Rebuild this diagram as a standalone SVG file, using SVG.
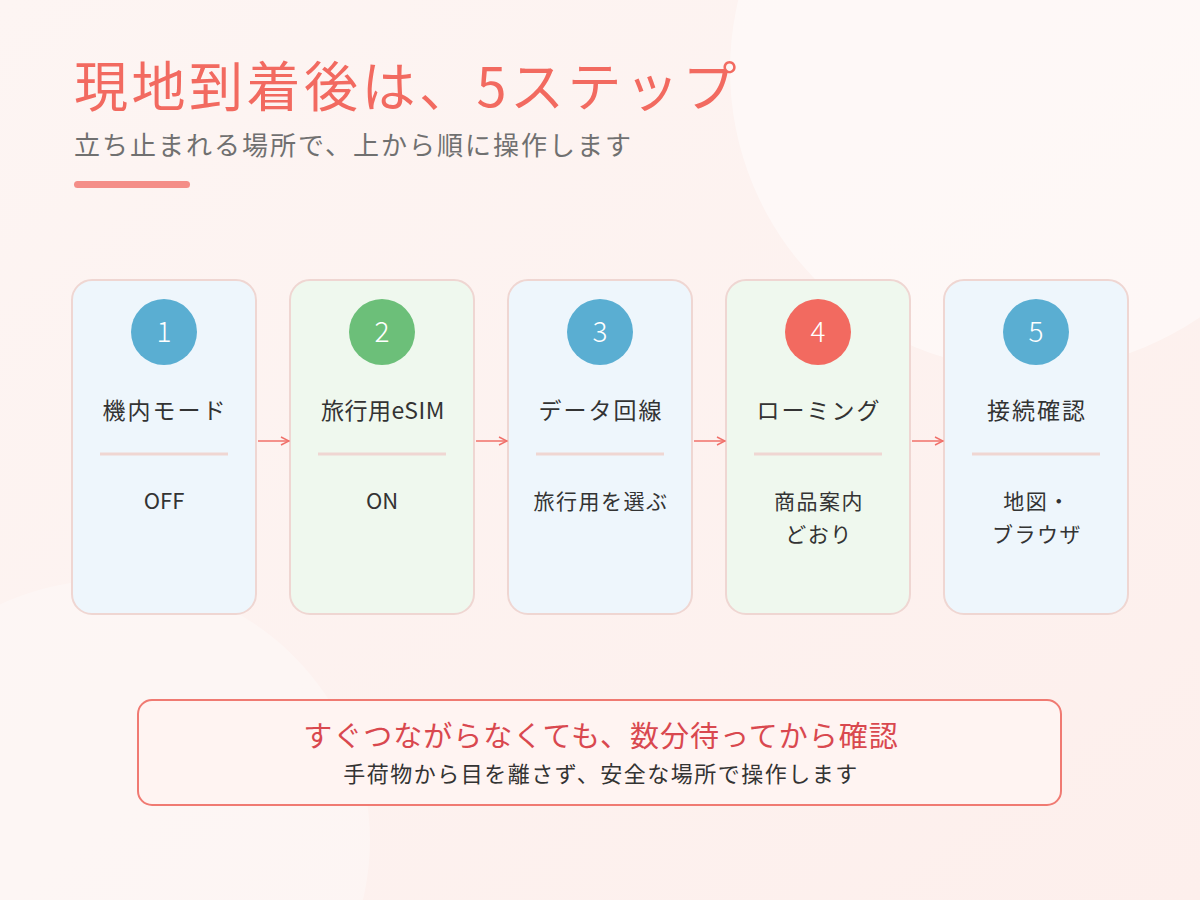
<svg xmlns="http://www.w3.org/2000/svg" width="1200" height="900" viewBox="0 0 1200 900">
<defs>
<linearGradient id="bg" x1="0" y1="0" x2="1" y2="1"><stop offset="0" stop-color="#fdf5f3"/><stop offset="1" stop-color="#fdefec"/></linearGradient>
<marker id="ah" viewBox="0 0 10 10" refX="9" refY="5" markerWidth="10" markerHeight="10" markerUnits="userSpaceOnUse" orient="auto"><path d="M1,1 L9,5 L1,9" fill="none" stroke="#f0706a" stroke-width="1.4"/></marker>
<style>
text{font-family:"Noto Sans CJK JP","Noto Sans",sans-serif;text-anchor:middle}
.card{stroke:#efd6d2;stroke-width:2}
.blue{fill:#eef6fc}.green{fill:#eff8ee}
.t{font-size:23px;fill:#333;letter-spacing:2px}
.b{font-size:21px;fill:#333;letter-spacing:1.5px}
.lat{font-size:22px;fill:#333}
.n{font-size:28px;fill:#fff;font-weight:300}
.div{stroke:#efd6d2;stroke-width:3}
.con{stroke:#f0706a;stroke-width:1.5;fill:none}
</style>
</defs>
<rect width="1200" height="900" fill="url(#bg)"/>
<circle cx="1030" cy="70" r="300" fill="#fff" opacity="0.45"/>
<circle cx="110" cy="840" r="260" fill="#fff" opacity="0.3"/>
<text x="74" y="107" style="text-anchor:start;font-size:54px;fill:#f26a60;letter-spacing:3.5px">現地到着後は、5ステップ</text>
<text x="74" y="155" style="text-anchor:start;font-size:26px;fill:#707070;letter-spacing:2px">立ち止まれる場所で、上から順に操作します</text>
<rect x="74" y="181" width="116" height="7" rx="3.5" fill="#f48e88"/>
<g id="step1"><rect class="card blue" x="72" y="280" width="184" height="334" rx="20"/><circle cx="164" cy="332" r="33" fill="#5aaed2"/><text class="n" x="164" y="342">1</text><text class="t" x="165" y="419">機内モード</text><line class="div" x1="100" y1="454" x2="228" y2="454"/><text class="lat" x="164" y="509">OFF</text></g>
<g id="step2"><rect class="card green" x="290" y="280" width="184" height="334" rx="20"/><circle cx="382" cy="332" r="33" fill="#6cbf79"/><text class="n" x="382" y="342">2</text><text class="t" x="383" y="419" style="letter-spacing:0.5px">旅行用eSIM</text><line class="div" x1="318" y1="454" x2="446" y2="454"/><text class="lat" x="382" y="509">ON</text></g>
<g id="step3"><rect class="card blue" x="508" y="280" width="184" height="334" rx="20"/><circle cx="600" cy="332" r="33" fill="#5aaed2"/><text class="n" x="600" y="342">3</text><text class="t" x="601" y="419">データ回線</text><line class="div" x1="536" y1="454" x2="664" y2="454"/><text class="b" x="601" y="509">旅行用を選ぶ</text></g>
<g id="step4"><rect class="card green" x="726" y="280" width="184" height="334" rx="20"/><circle cx="818" cy="332" r="33" fill="#f26a60"/><text class="n" x="818" y="342">4</text><text class="t" x="819" y="419">ローミング</text><line class="div" x1="754" y1="454" x2="882" y2="454"/><text class="b" x="819" y="509">商品案内</text><text class="b" x="819" y="542">どおり</text></g>
<g id="step5"><rect class="card blue" x="944" y="280" width="184" height="334" rx="20"/><circle cx="1036" cy="332" r="33" fill="#5aaed2"/><text class="n" x="1036" y="342">5</text><text class="t" x="1037" y="419">接続確認</text><line class="div" x1="972" y1="454" x2="1100" y2="454"/><text class="b" x="1037" y="509">地図・</text><text class="b" x="1037" y="542">ブラウザ</text></g>
<g id="connectors">
<line class="con" x1="258" y1="441" x2="289" y2="441" marker-end="url(#ah)"/>
<line class="con" x1="476" y1="441" x2="507" y2="441" marker-end="url(#ah)"/>
<line class="con" x1="694" y1="441" x2="725" y2="441" marker-end="url(#ah)"/>
<line class="con" x1="912" y1="441" x2="943" y2="441" marker-end="url(#ah)"/>
</g>
<g id="note"><rect x="138" y="700" width="923" height="105" rx="14" fill="#fff4f2" stroke="#f07a72" stroke-width="2"/><text x="601" y="747" style="font-size:29px;fill:#d9484f;letter-spacing:1px">すぐつながらなくても、数分待ってから確認</text><text x="601" y="782" style="font-size:22px;fill:#333;letter-spacing:1.5px">手荷物から目を離さず、安全な場所で操作します</text></g>
</svg>
